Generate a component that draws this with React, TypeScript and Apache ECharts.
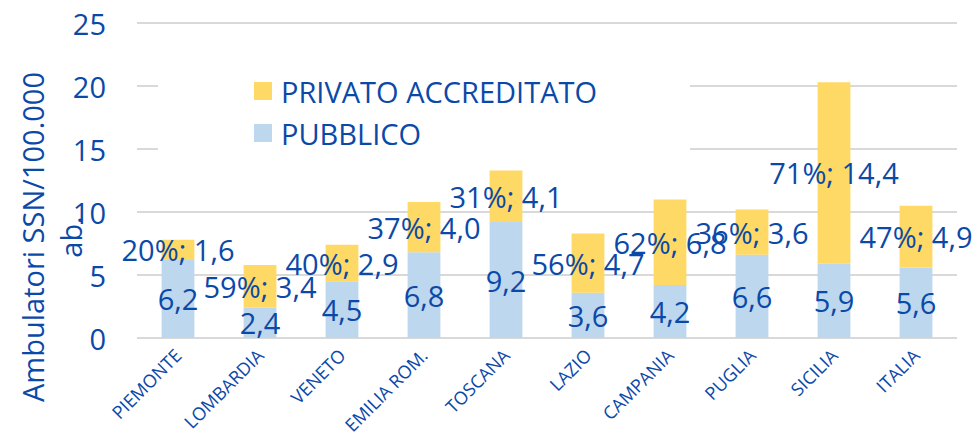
import React, { useEffect, useRef } from "react";
import * as echarts from "echarts";

const categories = ["PIEMONTE", "LOMBARDIA", "VENETO", "EMILIA ROM.", "TOSCANA", "LAZIO", "CAMPANIA", "PUGLIA", "SICILIA", "ITALIA"];
const pubblico = [6.2, 2.4, 4.5, 6.8, 9.2, 3.6, 4.2, 6.6, 5.9, 5.6];
const privato = [1.6, 3.4, 2.9, 4.0, 4.1, 4.7, 6.8, 3.6, 14.4, 4.9];
const privatoPct = [20, 59, 40, 37, 31, 56, 62, 36, 71, 47];

const BLUE = "#0B49A8";
const FONT = "Open Sans";
const fmt = (v: number) => v.toFixed(1).replace(".", ",");

export default function App() {
  const ref = useRef<HTMLDivElement>(null);
  useEffect(() => {
    if (!ref.current) return;
    const chart = echarts.init(ref.current, undefined, { renderer: "svg" });
    chart.setOption({
      animation: false,
      textStyle: { fontFamily: FONT },
      grid: { left: 137, right: 20, top: 23, bottom: 107 },
      legend: {
        orient: "vertical",
        left: 158,
        top: 66,
        data: ["PRIVATO ACCREDITATO", "PUBBLICO"],
        itemWidth: 18,
        itemHeight: 18,
        itemGap: 12,
        backgroundColor: "#ffffff",
        padding: [10, 93, 8, 96],
        icon: "rect",
        textStyle: { color: BLUE, fontSize: 29, fontFamily: FONT, lineHeight: 30, padding: [0, 0, 0, 4] },
      },
      graphic: [
        {
          type: "text",
          x: 51,
          y: 237,
          rotation: Math.PI / 2,
          style: {
            text: "Ambulatori SSN/100.000\nab.",
            fill: BLUE,
            font: `29px "${FONT}"`,
            fontSize: 29,
            fontFamily: FONT,
            lineHeight: 38,
            align: "center",
            verticalAlign: "middle",
          },
        },
      ],
      xAxis: {
        type: "category",
        data: categories,
        axisLine: { show: false },
        axisTick: { show: false },
        axisLabel: { rotate: 45, color: BLUE, fontSize: 18, fontFamily: FONT, margin: 14, interval: 0 },
      },
      yAxis: {
        type: "value",
        min: 0,
        max: 25,
        interval: 5,
        axisLine: { show: false },
        axisTick: { show: false },
        axisLabel: { color: BLUE, fontSize: 29, fontFamily: FONT, margin: 31 },
        splitLine: { lineStyle: { color: "#D9D9D9", width: 2 } },
      },
      series: [
        {
          name: "PUBBLICO",
          type: "bar",
          stack: "tot",
          data: pubblico,
          barWidth: "40%",
          itemStyle: { color: "#BDD7EE" },
          label: {
            show: true,
            position: "inside",
            color: BLUE,
            fontSize: 29,
            fontFamily: FONT,
            formatter: (p: any) => fmt(p.value),
          },
        },
        {
          name: "PRIVATO ACCREDITATO",
          type: "bar",
          stack: "tot",
          data: privato,
          barWidth: "40%",
          itemStyle: { color: "#FFD966" },
          label: {
            show: true,
            position: "inside",
            color: BLUE,
            fontSize: 29,
            fontFamily: FONT,
            formatter: (p: any) => `${privatoPct[p.dataIndex]}%; ${fmt(p.value)}`,
          },
        },
      ],
    });
    return () => chart.dispose();
  }, []);
  return <div ref={ref} style={{ position: "fixed", left: 0, top: 0, width: 977, height: 445, background: "#fff" }} />;
}
